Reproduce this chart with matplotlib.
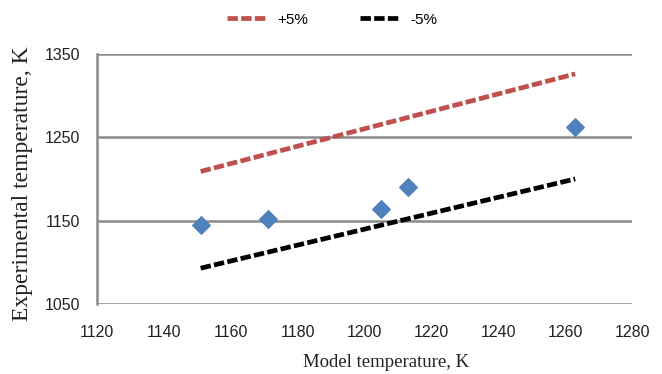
import matplotlib.pyplot as plt
from matplotlib.lines import Line2D

# --- data ---
model_t = [1151, 1171, 1205, 1213, 1263]
exp_t = [1145, 1152, 1164, 1190, 1262]

band_x = [1151, 1263]
plus5 = [1209, 1326]
minus5 = [1093, 1200]

xticks = [1120, 1140, 1160, 1180, 1200, 1220, 1240, 1260, 1280]
yticks = [1050, 1150, 1250, 1350]

tick_font = "Liberation Sans"
label_font = "Liberation Serif"
dash = (2.2, 0.7)

fig = plt.figure(figsize=(6.62, 3.74), dpi=100)
ax = fig.add_axes([0.1465, 0.187, 0.8082, 0.669])

ax.plot(band_x, plus5, color="#C0504D", lw=3.4, dashes=dash)
ax.plot(band_x, minus5, color="black", lw=3.4, dashes=dash)
ax.scatter(model_t, exp_t, marker="D", s=80, color="#4F81BD", zorder=3)

ax.set_xlim(1120, 1280)
ax.set_ylim(1050, 1350)
ax.set_xticks(xticks)
ax.set_yticks(yticks)
for lab in ax.get_xticklabels() + ax.get_yticklabels():
    lab.set_fontfamily(tick_font)
    lab.set_fontsize(11.5)
    lab.set_color("#222222")
ax.tick_params(length=0)
ax.tick_params(axis="x", pad=15)
ax.tick_params(axis="y", pad=12)

ax.grid(axis="y", color="#8a8a8a", lw=1.8)
ax.set_axisbelow(True)
for s in ["top", "right", "bottom"]:
    ax.spines[s].set_visible(False)
ax.spines["left"].set_color("#8a8a8a")
ax.spines["left"].set_linewidth(1.8)

ax.set_xlabel("Model temperature, K", fontfamily=label_font, fontsize=13.5, color="#222222")
ax.set_ylabel("Experimental temperature, K", fontfamily=label_font, fontsize=17, color="#222222")
ax.xaxis.set_label_coords(0.54, -0.2)
ax.yaxis.set_label_coords(-0.12, 0.48)

handles = [Line2D([], [], color="#C0504D", lw=3.4, dashes=dash),
           Line2D([], [], color="black", lw=3.4, dashes=dash)]
fig.legend(handles, ["+5%", "-5%"], loc="center", bbox_to_anchor=(0.5015, 0.947),
           ncol=2, frameon=False, handlelength=2.6, handletextpad=0.7,
           columnspacing=3.4, prop={"family": tick_font, "size": 11})

fig.savefig("out.png", dpi=100)
